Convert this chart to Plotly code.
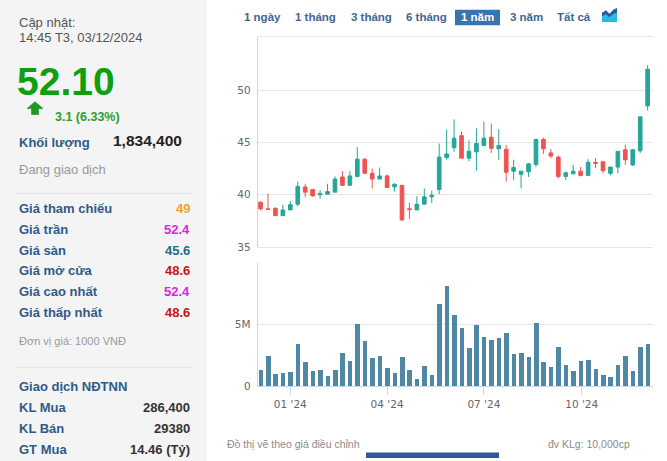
import pandas as pd
import plotly.graph_objects as go
from plotly.subplots import make_subplots

W, H = 667, 461

# weekly candles, Dec 2023 - Dec 2024
weeks = pd.date_range("2023-12-04", periods=53, freq="7D")

opens = [39.28, 38.65, 38.7, 38.0, 38.55, 39.1, 40.75, 40.5, 40.0, 40.05,
         40.25, 41.7, 40.9, 41.75, 43.4, 42.05, 41.5, 41.8, 40.75, 40.9,
         38.65, 38.55, 39.1, 39.8, 40.5, 43.55, 44.5, 45.65, 43.5, 44.1,
         44.7, 45.5, 44.4, 44.35, 42.25, 41.95, 42.2, 42.9, 45.3, 44.0,
         43.6, 41.75, 42.0, 42.25, 41.85, 43.1, 43.15, 42.05, 42.65, 44.3,
         42.85, 44.2, 48.5]
highs = [39.37, 40.1, 38.8, 39.05, 39.4, 41.25, 41.05, 40.55, 40.45, 41.05,
         41.75, 42.25, 42.25, 44.55, 43.5, 42.5, 42.6, 41.95, 41.1, 40.9,
         39.2, 39.85, 40.6, 40.4, 44.9, 46.25, 47.2, 46.05, 45.2, 46.35,
         47.0, 46.8, 46.25, 44.75, 43.35, 42.25, 43.05, 45.3, 45.45, 44.35,
         43.75, 42.2, 42.85, 42.65, 43.4, 43.5, 43.25, 42.65, 44.15, 44.8,
         44.4, 47.45, 52.4]
lows = [38.5, 38.55, 38.0, 38.0, 38.55, 38.9, 39.75, 39.8, 39.6, 40.05,
        40.25, 40.9, 40.9, 41.75, 42.05, 40.6, 41.5, 40.7, 40.3, 37.45,
        37.7, 38.55, 39.1, 39.2, 40.05, 43.35, 44.1, 43.5, 43.2, 42.3,
        44.7, 44.0, 43.35, 41.25, 41.4, 40.6, 41.7, 42.65, 43.9, 43.5,
        41.55, 41.4, 41.95, 41.75, 41.85, 42.55, 42.05, 41.85, 42.05, 42.85,
        42.75, 44.0, 48.05]
closes = [38.65, 38.6, 38.0, 38.55, 39.05, 40.8, 40.25, 39.9, 40.1, 40.3,
          41.5, 40.9, 41.8, 43.4, 42.05, 41.5, 41.8, 40.7, 41.0, 37.6,
          38.6, 39.1, 39.8, 39.95, 43.6, 43.9, 45.4, 43.5, 44.15, 44.9,
          45.4, 44.45, 44.7, 42.15, 42.6, 42.25, 42.95, 45.3, 44.4, 43.7,
          41.75, 42.1, 42.25, 41.85, 43.1, 43.0, 42.3, 42.65, 44.15, 43.35,
          44.3, 47.45, 52.0]
# volume in millions of shares
volumes = [1.30, 2.43, 0.97, 1.05, 1.14, 3.41, 1.95, 1.22, 1.30, 0.81,
           1.30, 2.68, 2.03, 5.03, 3.65, 2.27, 2.43, 1.46, 1.05, 2.35,
           1.30, 0.57, 1.62, 0.89, 6.65, 8.11, 5.76, 4.70, 3.08, 4.95,
           3.97, 3.73, 3.89, 4.30, 2.59, 2.68, 2.35, 5.11, 1.95, 1.54,
           3.16, 1.70, 1.22, 2.03, 2.11, 1.38, 0.89, 0.73, 1.70, 2.43,
           1.22, 3.16, 3.41]

price_ticks = [35, 40, 45, 50]
vol_ticks = [0, 5e6, 10e6]
vol_ticktext = ["0", "5M", ""]
month_ticks = ["2024-01-01", "2024-04-01", "2024-07-01", "2024-10-01"]
month_labels = ["01 '24", "04 '24", "07 '24", "10 '24"]

buttons = ["1 ngày", "1 tháng", "3 tháng", "6 tháng", "1 năm", "3 năm", "Tất cả"]
button_x = [262, 315, 371, 426, 477.5, 526, 573.5]

info_labels = ["Giá tham chiếu", "Giá trần", "Giá sàn", "Giá mở cửa", "Giá cao nhất", "Giá thấp nhất"]
info_values = ["49", "52.4", "45.6", "48.6", "52.4", "48.6"]
info_colors = ["#f2a324", "#e11fe0", "#1f6c8a", "#c81414", "#e11fe0", "#c81414"]

foreign_labels = ["KL Mua", "KL Bán", "GT Mua"]
foreign_values = ["286,400", "29380", "14.46 (Tỷ)"]

UP = "#26a69a"
DOWN = "#ef5350"
VOLC = "#4f87a5"
LABEL = "#2f5b88"
FONT = "Liberation Sans"
TICKFONT = dict(family="DejaVu Sans", size=10.5, color="#666666")


def px(x):
    return x / W


def py(y):
    return 1 - y / H


fig = make_subplots(rows=2, cols=1, shared_xaxes=True)

fig.add_trace(go.Candlestick(
    x=weeks, open=opens, high=highs, low=lows, close=closes,
    increasing=dict(line=dict(color=UP, width=1), fillcolor=UP),
    decreasing=dict(line=dict(color=DOWN, width=1), fillcolor=DOWN),
    whiskerwidth=0, showlegend=False, hoverinfo="skip"), row=1, col=1)

fig.add_trace(go.Bar(
    x=weeks, y=[v * 1e6 for v in volumes], marker_color=VOLC, marker_line_width=0,
    width=4.2 * 86400000, showlegend=False, hoverinfo="skip"), row=2, col=1)

xr = ["2023-12-01 08:00", "2024-12-06 18:00"]
fig.update_xaxes(range=xr, domain=[px(257.7), px(652.7)], showgrid=False, zeroline=False)
fig.update_layout(
    xaxis=dict(rangeslider=dict(visible=False), showticklabels=False,
               showline=True, mirror=True, linecolor="#e6e6e6", ticks=""),
    xaxis2=dict(tickvals=month_ticks, ticktext=month_labels, ticks="outside",
                ticklen=8, tickcolor="#ccd6eb", tickfont=TICKFONT,
                showline=True, linecolor="#ccd6eb"),
    yaxis=dict(domain=[py(250.3), py(37.3)], range=[35, 55.1], tickvals=price_ticks,
               gridcolor="#e6e6e6", showline=True, linecolor="#ccd6eb",
               zeroline=False, tickfont=TICKFONT, ticklabelstandoff=4),
    yaxis2=dict(domain=[py(391), py(266)], range=[0, 10e6], tickvals=vol_ticks,
                ticktext=vol_ticktext, gridcolor="#e6e6e6", showline=True,
                linecolor="#ccd6eb", zeroline=False, tickfont=TICKFONT,
                ticklabelstandoff=4),
)

shapes = []
annots = []

# grey info panel on the left
shapes.append(dict(type="rect", xref="paper", yref="paper", x0=0, x1=px(207), y0=-0.02, y1=1.02,
                   fillcolor="#f4f4f4", line_width=0, layer="below"))
for yy in [196, 372.5]:
    shapes.append(dict(type="line", xref="paper", yref="paper", x0=px(17), x1=px(192),
                       y0=py(yy), y1=py(yy), line=dict(color="#e2e2e2", width=1)))

def txt(s, x, y, size=13, color="#333", bold=False, anchor="left", font=FONT):
    if bold:
        s = "<b>" + s + "</b>"
    annots.append(dict(text=s, x=px(x), y=py(y), xref="paper", yref="paper",
                       xanchor=anchor, yanchor="middle", showarrow=False,
                       font=dict(family=font, size=size, color=color)))

txt("Cập nhật:", 17, 23, 13, "#555555")
txt("14:45 T3, 03/12/2024", 17, 38, 13, "#555555")
txt("52.10", 15, 83, 39, "#0e9f0e", bold=True)
txt("3.1 (6.33%)", 53, 118.5, 12.5, "#2e9e2e", bold=True)
txt("Khối lượng", 17, 144.5, 13, LABEL, bold=True)
txt("1,834,400", 111, 142, 15.5, "#222222", bold=True)
txt("Đang giao dịch", 17, 171.5, 13, "#9a9a9a")

for i, (lab, val, col) in enumerate(zip(info_labels, info_values, info_colors)):
    yy = 211.5 + i * 21
    txt(lab, 17, yy, 13, LABEL, bold=True)
    txt(val, 192, yy, 13, col, bold=True, anchor="right")

txt("Đơn vị giá: 1000 VNĐ", 17, 346, 11, "#9a9a9a")
txt("Giao dịch NĐTNN", 17, 392, 13, LABEL, bold=True)
for i, (lab, val) in enumerate(zip(foreign_labels, foreign_values)):
    yy = 413 + i * 21
    txt(lab, 17, yy, 13, LABEL, bold=True)
    txt(val, 192, yy, 13, "#333333", bold=True, anchor="right")

# green up arrow
arrow = "M {},{} L {},{} L {},{} L {},{} L {},{} L {},{} L {},{} Z".format(
    px(27), py(110), px(35), py(103), px(43), py(110), px(38.5), py(110),
    px(38.5), py(116), px(31.5), py(116), px(31.5), py(110))
shapes.append(dict(type="path", xref="paper", yref="paper", path=arrow,
                   fillcolor="#1f9a1f", line=dict(color="#137a13", width=0.5)))

# period buttons
shapes.append(dict(type="rect", xref="paper", yref="paper", x0=px(455), x1=px(500),
                   y0=py(25.7), y1=py(10), fillcolor="#3875ad", line_width=0))
for b, bx in zip(buttons, button_x):
    c = "white" if b == "1 năm" else "#3d6793"
    txt(b, bx, 17.5, 11.5, c, bold=True, anchor="center")

# chart type icon
icon_top = "M {},{} L {},{} L {},{} L {},{} L {},{} L {},{} L {},{} Z".format(
    px(602), py(22), px(602), py(13), px(606), py(10.5), px(609.5), py(14),
    px(613.5), py(9.5), px(617), py(8), px(617), py(22))
icon_low = "M {},{} L {},{} L {},{} L {},{} L {},{} L {},{} L {},{} Z".format(
    px(602), py(22), px(602), py(16.5), px(606), py(14.5), px(609.5), py(17.5),
    px(613.5), py(14), px(617), py(13), px(617), py(22))
shapes.append(dict(type="path", xref="paper", yref="paper", path=icon_top,
                   fillcolor="#2d5b99", line_width=0))
shapes.append(dict(type="path", xref="paper", yref="paper", path=icon_low,
                   fillcolor="#2bbde0", line_width=0))

# footer
txt("Đồ thị vẽ theo giá điều chỉnh", 225, 450, 10.5, "#8a8a8a")
txt("đv KLg: 10,000cp", 632, 450, 10.5, "#8a8a8a", anchor="right")
shapes.append(dict(type="rect", xref="paper", yref="paper", x0=px(366), x1=px(499),
                   y0=py(464), y1=py(458.5), fillcolor="#2d5a96", line_width=0))

fig.update_layout(
    width=W, height=H,
    margin=dict(l=0, r=0, t=0, b=0),
    paper_bgcolor="white", plot_bgcolor="white",
    shapes=shapes, annotations=annots,
    bargap=0, hovermode=False,
)

# page body has an 8px default margin; drop it so the figure sits at 0,0
fig.write_html("out.html", config={"displayModeBar": False},
               post_script="document.body.style.margin='0';")
